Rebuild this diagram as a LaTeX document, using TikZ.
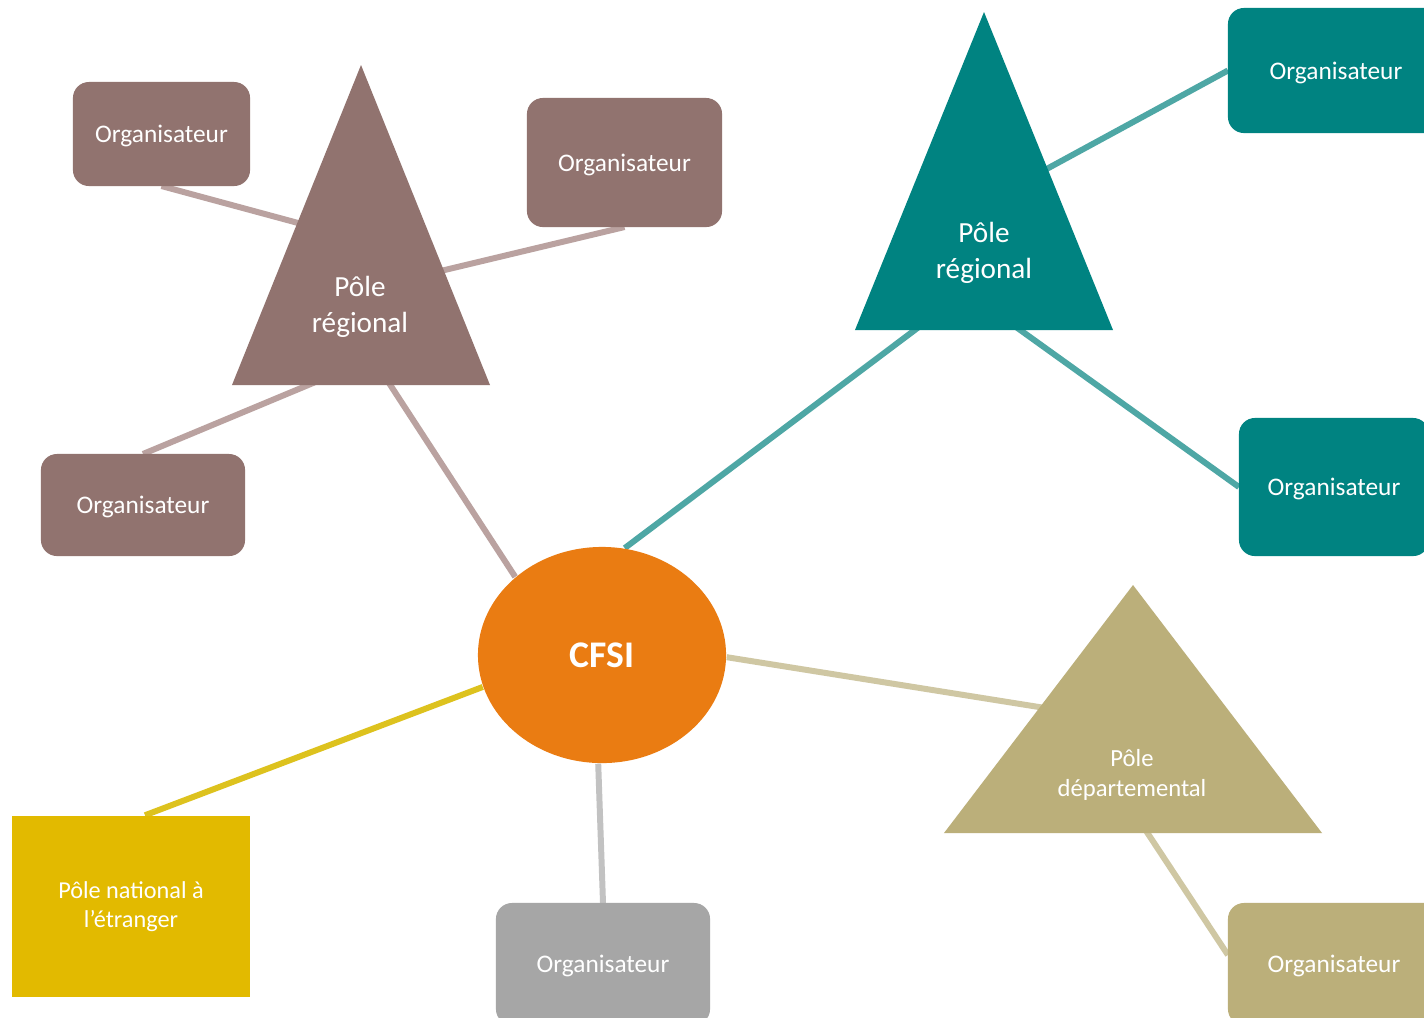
\documentclass[tikz,border=0pt]{standalone}
\usepackage{fontspec}
\setmainfont{Carlito}
\usepackage{xcolor}
\usepackage{tikz}
\usetikzlibrary{shapes.geometric,backgrounds,positioning}

\definecolor{brun}{RGB}{145,115,111}
\definecolor{brunlien}{RGB}{186,162,160}
\definecolor{sarcelle}{RGB}{0,131,129}
\definecolor{sarcellelien}{RGB}{78,167,165}
\definecolor{sable}{RGB}{187,175,122}
\definecolor{sablelien}{RGB}{207,199,163}
\definecolor{jaune}{RGB}{226,186,0}
\definecolor{jaunelien}{RGB}{221,194,30}
\definecolor{gris}{RGB}{166,166,166}
\definecolor{grislien}{RGB}{194,194,194}
\definecolor{cfsiorange}{RGB}{234,124,18}

\begin{document}
\begin{tikzpicture}[x=0.01cm, y=-0.01cm]
        \tikzset{org/.style={rectangle, rounded corners=0.16cm, fill=#1, text=white, font=\fontsize{7.2}{8.6}\selectfont, text depth=0pt, inner sep=0pt, outer sep=0pt}}
        \tikzset{pole/.style={isosceles triangle, isosceles triangle stretches, shape border rotate=90, fill=#1, inner sep=0pt, outer sep=0pt, anchor=apex}}
        \tikzset{poletxt/.style={text=white, align=center, inner sep=0pt}}
        \tikzset{lien/.style={line width=1.7pt, draw=#1}}

        \useasboundingbox (0,0) rectangle (1424,1017);
        \clip (0,0) rectangle (1424,1017);

        \node [ellipse, fill=cfsiorange, minimum width=2.48cm, minimum height=2.16cm, inner sep=0pt, text=white, font=\fontsize{10.7}{12}\selectfont\bfseries] (cfsi) at (602,655) {CFSI};

        % pole regional, brun
        \node [pole=brun, minimum width=2.58cm, minimum height=3.2cm] (regA) at (361,65) {};
        \node [poletxt, font=\fontsize{8.3}{10.2}\selectfont] (regAtxt) at (360,307) {Pôle\\régional};
        \node [org=brun, minimum width=1.77cm, minimum height=1.04cm] (orgA1) at (161.5,134) {Organisateur};
        \node [org=brun, minimum width=1.95cm, minimum height=1.29cm] (orgA2) at (624.5,162.5) {Organisateur};
        \node [org=brun, minimum width=2.04cm, minimum height=1.02cm] (orgA3) at (143,505) {Organisateur};

        % pole regional, sarcelle
        \node [pole=sarcelle, minimum width=2.58cm, minimum height=3.18cm] (regB) at (984,12) {};
        \node [poletxt, font=\fontsize{8.3}{10.2}\selectfont] (regBtxt) at (984,253) {Pôle\\régional};
        \node [org=sarcelle, minimum width=2.16cm, minimum height=1.25cm] (orgB1) at (1336,70.5) {Organisateur};
        \node [org=sarcelle, minimum width=1.9cm, minimum height=1.38cm] (orgB2) at (1334,487) {Organisateur};

        % pole departemental
        \node [pole=sable, minimum width=3.78cm, minimum height=2.48cm] (dep) at (1133,585) {};
        \node [poletxt, font=\fontsize{7}{8.5}\selectfont] (deptxt) at (1132,775) {Pôle\\départemental};
        \node [org=sable, minimum width=2.12cm, minimum height=1.22cm] (orgC) at (1334,964) {Organisateur};

        % pole national et organisateur direct
        \node [rectangle, fill=jaune, minimum width=2.38cm, minimum height=1.81cm, inner sep=0pt, poletxt, font=\fontsize{6.9}{8.3}\selectfont] (natl) at (131,906.5) {Pôle national à\\l’étranger};
        \node [org=gris, minimum width=2.14cm, minimum height=1.22cm] (orgD) at (603,964) {Organisateur};

        \begin{scope}[on background layer]
            \fill [white] (0,0) rectangle (1424,1017);
            \draw [lien=brunlien] (orgA1.south) -- ([shift={(0,175)}]regA.apex);
            \draw [lien=brunlien] (orgA2.south) -- ([shift={(0,225)}]regA.apex);
            \draw [lien=brunlien] (orgA3.north) -- ([shift={(0,298)}]regA.apex);
            \draw [lien=brunlien] (cfsi.138) -- ([shift={(0,275)}]regA.apex);
            \draw [lien=sarcellelien] (orgB1.west) -- ([shift={(0,191)}]regB.apex);
            \draw [lien=sarcellelien] (orgB2.west) -- ([shift={(0,292)}]regB.apex);
            \draw [lien=sarcellelien] (cfsi.78) -- ([shift={(0,266)}]regB.apex);
            \draw [lien=sablelien] (cfsi.359) -- ([shift={(0,137)}]dep.apex);
            \draw [lien=sablelien] ([shift={(0,-9)}]orgC.west) -- ([shift={(0,226)}]dep.apex);
            \draw [lien=jaunelien] ([shift={(14,0)}]natl.north) -- (cfsi.195);
            \draw [lien=grislien] (orgD.north) -- (cfsi.268);
        \end{scope}
    \end{tikzpicture}
\end{document}
